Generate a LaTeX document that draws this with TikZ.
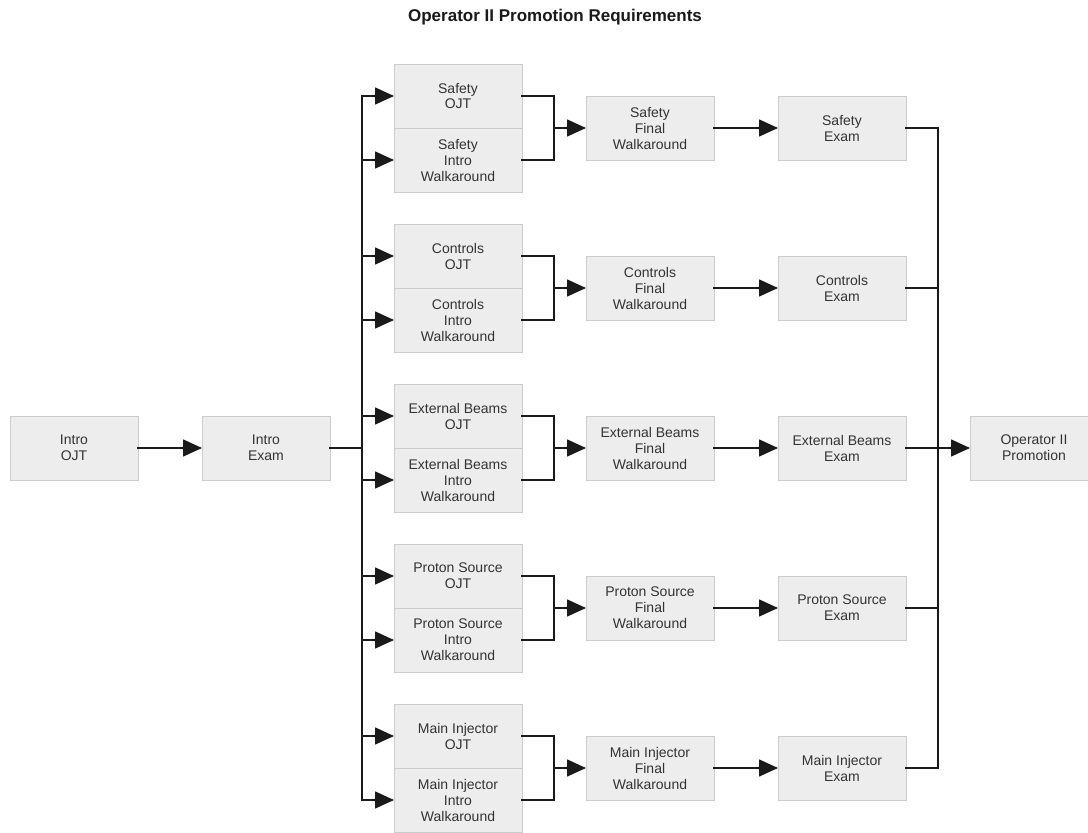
\documentclass[tikz,border=0pt]{standalone}
\usepackage{fontspec}
\setmainfont{Liberation Sans}
\usetikzlibrary{positioning,arrows.meta,calc}
\definecolor{boxfill}{HTML}{EDEDED}
\definecolor{boxline}{HTML}{CCCCCC}
\definecolor{wirecol}{HTML}{1A1A1A}
\definecolor{txt}{HTML}{333333}

\begin{document}
\begin{tikzpicture}[x=1pt,y=-1pt,>={Triangle[length=19pt,width=17pt]},
   node distance=64pt,
   stage/.style={draw=boxline,fill=boxfill,line width=0.8pt,minimum width=128pt,
     minimum height=64pt,inner sep=0pt,outer sep=0pt,align=center,text=txt,
     font=\fontsize{14}{16}\selectfont},
   wire/.style={draw=wirecol,line width=1.5pt,line cap=rect}]
  \useasboundingbox (0,0) rectangle (1088,833);
  \node[font=\bfseries\fontsize{17}{20}\selectfont,text=black!90] (title) at (555,17)
    {Operator II Promotion Requirements};

  \node[stage] (introojt) at (74,448) {Intro\\OJT};
  \node[stage] (introexam) [right=of introojt] {Intro\\Exam};
  \node[stage] (promo) at (1034,448) {Operator II\\Promotion};
  \coordinate (split) at (362,448);
  \coordinate (bus) at (938,448);

  % one row per area
  \foreach \name/\what [count=\i from 0] in {safety/Safety,controls/Controls,
      ext/External Beams,proton/Proton Source,main/Main Injector}{
    \node[stage] (\name-ojt) at (458,{96+160*\i}) {\what\\OJT};
    \node[stage] (\name-walk) [below=0pt of \name-ojt] {\what\\Intro\\Walkaround};
    \node[stage] (\name-final) at (650,{128+160*\i}) {\what\\Final\\Walkaround};
    \node[stage] (\name-exam) [right=of \name-final] {\what\\Exam};
    \coordinate (\name-join) at ($(\name-final.west)+(-32,0)$);
    \draw[wire,->] (split |- \name-ojt) -- (\name-ojt);
    \draw[wire,->] (split |- \name-walk) -- (\name-walk);
    \draw[wire] (\name-ojt.east) -| (\name-join) |- (\name-walk.east);
    \draw[wire,->] (\name-join) -- (\name-final);
    \draw[wire,->] (\name-final) -- (\name-exam);
    \draw[wire] (\name-exam) -- (bus |- \name-exam);
  }

  \draw[wire,->] (introojt) -- (introexam);
  \draw[wire] (introexam) -- (split);
  \draw[wire] (split |- safety-ojt) -- (split |- main-walk);
  \draw[wire] (bus |- safety-exam) -- (bus |- main-exam);
  \draw[wire,->] (bus) -- (promo);
\end{tikzpicture}
\end{document}
